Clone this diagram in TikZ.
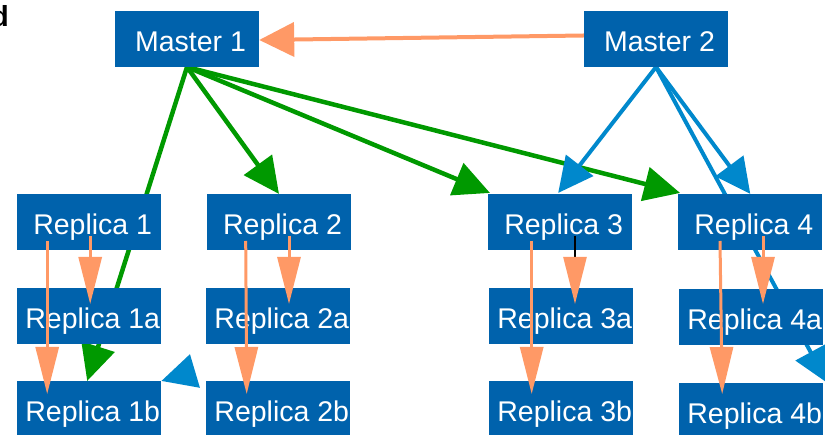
\documentclass[tikz,border=0pt]{standalone}
\usepackage{fontspec}
\setmainfont{Liberation Sans}
\usetikzlibrary{arrows.meta,calc,backgrounds}

\definecolor{boxblue}{HTML}{0062AC}
\definecolor{edgeblue}{HTML}{0088CC}
\definecolor{edgegreen}{HTML}{009900}
\definecolor{edgeorange}{HTML}{FF9966}

\tikzset{
  server/.style={fill=boxblue, draw=none, inner sep=0pt,
    minimum width=144pt, minimum height=55.7pt, text=white,
    font=\fontsize{28.5}{30}\selectfont, text height=25pt, text depth=0pt,
    execute at begin node={\hspace{7pt}}},
  greenlink/.style={draw=edgegreen, line width=4.5pt,
    -{Triangle[length=36pt,width=34pt]}},
  bluelink/.style={draw=edgeblue, line width=4pt,
    -{Triangle[length=35pt,width=34pt]}},
  masterlink/.style={draw=edgeorange, line width=4pt,
    -{Triangle[length=35pt,width=34pt]}},
  copylink/.style={draw=edgeorange, line width=3pt,
    -{Triangle[length=47pt,width=23pt,color=edgeorange]}},
}

\begin{document}
\begin{tikzpicture}[x=1pt,y=-1pt]
\useasboundingbox (0,0) rectangle (825,435);

% corner letter
\node[anchor=base east, inner sep=0pt, font=\bfseries\fontsize{29}{30}\selectfont] (corner) at (9,27) {d};

% masters
\node[server] (m1) at (187,39) {Master 1};
\node[server] (m2) at (656,39) {Master 2};

% first-level replicas
\node[server] (r1) at (89.2,222) {Replica 1};
\node[server] (r2) at (279,222) {Replica 2};
\node[server] (r3) at (560.2,222) {Replica 3};
\node[server] (r4) at (750.3,222) {Replica 4};

% second-level replicas
\node[server] (r1a) at (89.2,316) {Replica 1a};
\node[server] (r2a) at (278.3,316) {Replica 2a};
\node[server] (r3a) at (561.2,316) {Replica 3a};
\node[server] (r4a) at (751.2,317) {Replica 4a};

% third-level replicas
\node[server] (r1b) at (89.2,409) {Replica 1b};
\node[server] (r2b) at (278.3,409) {Replica 2b};
\node[server] (r3b) at (561.2,409) {Replica 3b};
\node[server] (r4b) at (751.2,411) {Replica 4b};

\begin{scope}[on background layer]
  % Master 1 fan-out
  \draw[greenlink] (m1.south) -- ($(r1b.north)+(-2,0)$);
  \draw[greenlink] (m1.south) -- (r2.north);
  \draw[greenlink] (m1.south) -- ($(r3.north west)+(2,-1)$);
  \draw[greenlink] (m1.south) -- ($(r4.north west)+(2,-1)$);
  % Master 2 fan-out
  \draw[bluelink] (m2.south) -- ($(r3.north)+(-2,-1)$);
  \draw[bluelink] (m2.south) -- (r4.north);
  \draw[bluelink] (m2.south) -- ($(r4b.north east)+(4,0)$);
  \coordinate (stub) at ($(r1b.north east)+(32,-9.5)$);
  \draw[bluelink] (stub) -- (r1b.north east);
\end{scope}

% master to master
\draw[masterlink] ($(m2.west)+(0,-3.5)$) -- ($(m1.east)+(0,1)$);

% chained replication
\draw[copylink] ($(r1.center)+(1,14)$) -- ($(r1a.center)+(1,-12)$);
\draw[copylink] ($(r1.center)+(-42,19)$) -- ($(r1b.center)+(-42,-15)$);
\draw[copylink] ($(r2.center)+(10,14)$) -- ($(r2a.center)+(10.7,-12)$);
\draw[copylink] ($(r2.center)+(-33.3,19)$) -- ($(r2b.center)+(-31.6,-15)$);
\draw[copylink, draw=black, line width=2.5pt] ($(r3.center)+(14.8,14)$) -- ($(r3a.center)+(13.8,-12)$);
\draw[copylink] ($(r3.center)+(-28.5,19)$) -- ($(r3b.center)+(-29.5,-15)$);
\draw[copylink] ($(r4.center)+(12.7,14)$) -- ($(r4a.center)+(11.8,-13)$);
\draw[copylink] ($(r4.center)+(-30.3,19)$) -- ($(r4b.center)+(-29,-17)$);
\end{tikzpicture}
\end{document}
